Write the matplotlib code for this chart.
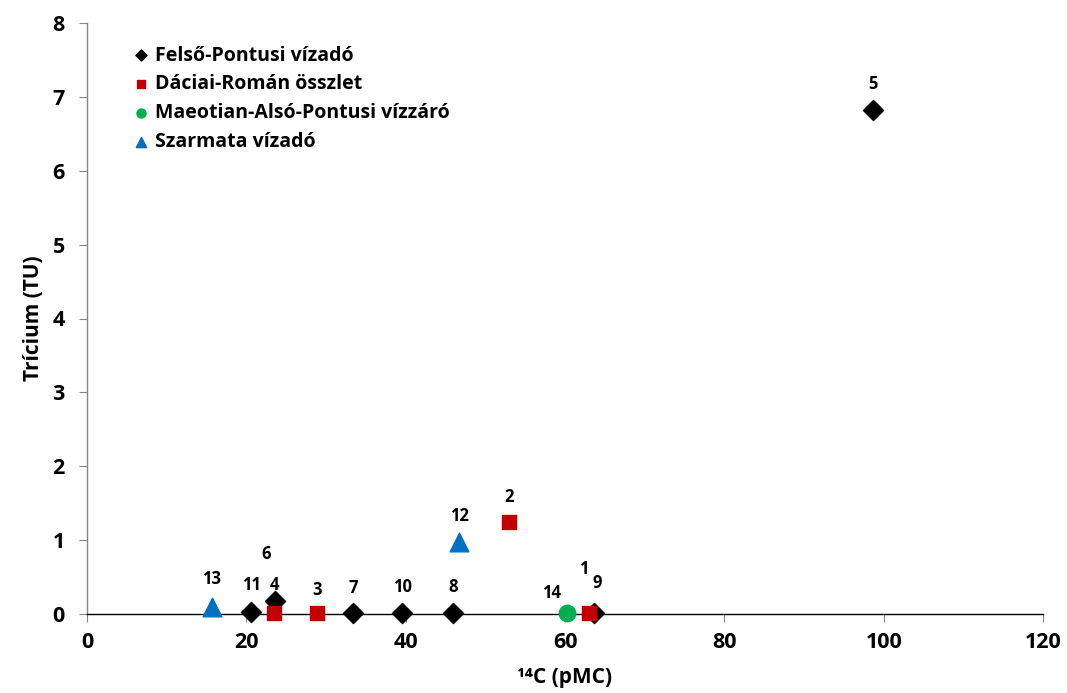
import matplotlib
matplotlib.use("Agg")
import matplotlib.pyplot as plt

plt.rcParams['font.family'] = ['Open Sans', 'DejaVu Sans']
plt.rcParams['font.weight'] = 'bold'

# Data
felso_ids = ["5", "11", "6", "7", "10", "8", "9"]
felso_x = [98.7, 20.6, 23.6, 33.4, 39.6, 46.0, 63.6]
felso_y = [6.82, 0.03, 0.17, 0.01, 0.01, 0.01, 0.01]

dacia_ids = ["2", "4", "3", "1"]
dacia_x = [53.0, 23.5, 28.9, 63.0]
dacia_y = [1.24, 0.01, 0.01, 0.01]

maeo_ids = ["14"]
maeo_x = [60.2]
maeo_y = [0.01]

szarm_ids = ["13", "12"]
szarm_x = [15.65, 46.7]
szarm_y = [0.10, 0.98]

series_names = ["Felső-Pontusi vízadó", "Dáciai-Román összlet",
                "Maeotian-Alsó-Pontusi vízzáró", "Szarmata vízadó"]
x_ticks = [0, 20, 40, 60, 80, 100, 120]
y_ticks = [0, 1, 2, 3, 4, 5, 6, 7, 8]

# label offsets in pixels (styling)
label_off = {"5": (0, 26), "2": (0, 25), "12": (0, 26), "13": (0, 28),
             "11": (0, 27), "4": (0, 28), "6": (-9, 47), "3": (0, 23),
             "7": (0, 25), "10": (0, 26), "8": (0, 26), "14": (-15, 20),
             "1": (-5, 44), "9": (4, 30)}

fig = plt.figure(figsize=(10.67, 6.93), dpi=100)
ax = fig.add_axes([87/1067, 79/693, (1043-87)/1067, (614-23)/693])

ax.scatter(felso_x, felso_y, marker='D', s=105, color='black', zorder=3,
           label=series_names[0], clip_on=False)
ax.scatter(dacia_x, dacia_y, marker='s', s=95, color='#C00000', zorder=4,
           label=series_names[1], clip_on=False)
ax.scatter(maeo_x, maeo_y, marker='o', s=140, color='#00B050', zorder=4,
           label=series_names[2], clip_on=False)
ax.scatter(szarm_x, szarm_y, marker='^', s=180, color='#0070C0', zorder=4,
           label=series_names[3], clip_on=False)

for ids, xs, ys in [(felso_ids, felso_x, felso_y), (dacia_ids, dacia_x, dacia_y),
                    (maeo_ids, maeo_x, maeo_y), (szarm_ids, szarm_x, szarm_y)]:
    for i, xx, yy in zip(ids, xs, ys):
        ax.annotate(i, (xx, yy), xytext=label_off[i], textcoords='offset pixels',
                    ha='center', va='center', fontsize=12, fontweight='bold')

ax.set_xlim(0, 120)
ax.set_ylim(0, 8)
ax.set_xticks(x_ticks)
ax.set_yticks(y_ticks)
ax.tick_params(axis='both', labelsize=15.5, length=6, color='#868686', direction='out')
for lab in ax.get_xticklabels() + ax.get_yticklabels():
    lab.set_fontweight('bold')
ax.tick_params(axis='y', pad=10)
ax.tick_params(axis='x', pad=7)

for s in ['top', 'right']:
    ax.spines[s].set_visible(False)
for s in ['left', 'bottom']:
    ax.spines[s].set_color('#868686')
    ax.spines[s].set_linewidth(1.0)
ax.spines['bottom'].set_color('black')

ax.set_ylabel("Trícium (TU)", fontsize=15, fontweight='bold', labelpad=6)
ax.set_xlabel("¹⁴C (pMC)", fontsize=15, fontweight='bold', labelpad=10)

leg = ax.legend(loc='upper left', bbox_to_anchor=(0.038, 0.975), frameon=False,
                fontsize=14, markerscale=0.55, handletextpad=0.25, labelspacing=0.45,
                handlelength=1.0, borderaxespad=0)
for t in leg.get_texts():
    t.set_fontweight('bold')

fig.savefig("out.png", dpi=100)
